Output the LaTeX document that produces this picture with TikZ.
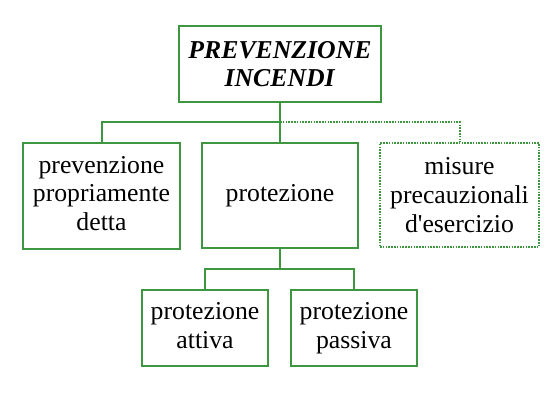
\documentclass[tikz,border=0pt]{standalone}
\usepackage{fontspec}
\setmainfont{Liberation Serif}
\usepackage{tikz}

\begin{document}
\begin{tikzpicture}[x=0.75pt,y=0.75pt,yscale=-1,xscale=1,
  box/.style={draw={rgb, 255:red, 62; green, 150; blue, 62},line width=1.5pt,align=center,inner sep=0.75pt,font=\fontsize{19.3}{21.5}\selectfont},
  conn/.style={draw={rgb, 255:red, 62; green, 150; blue, 62},line width=1.5pt},
  dots/.style={dash pattern={on 1.2pt off 0.9pt}}]
\path (0,0) rectangle (553,408); %set diagram size

% Top box
\node [box,minimum width=151.5pt,minimum height=57pt] (top) at (280,64) {\textbf{\textit{PREVENZIONE}}\\\textbf{\textit{INCENDI}}};
% Second row
\node [box,minimum width=117.75pt,minimum height=79.5pt] (prev) at (101.5,196) {prevenzione\\propriamente\\detta\vphantom{p}};
\node [box,minimum width=117pt,minimum height=78.75pt] (prot) at (280,195.5) {protezione};
\node [box,dots,minimum width=119.25pt,minimum height=78pt] (misure) at (459.5,195) {misure\\precauzionali\\d\textquotesingle esercizio};
% Third row
\node [box,minimum width=94.5pt,minimum height=57pt] (att) at (205,328) {protezione\\attiva\vphantom{p}};
\node [box,minimum width=94.5pt,minimum height=57pt] (pas) at (354,328) {protezione\\passiva};

%Connectors
\coordinate (bus) at (280,122);
\coordinate (bustwo) at (280,269);
\draw [conn] (top.south) -- (prot.north);
\draw [conn] (prev.north) |- (bus);
\draw [conn,dots] (bus) -| (misure.north);
\draw [conn] (prot.south) -- (bustwo);
\draw [conn] (att.north) |- (bustwo) -| (pas.north);
\end{tikzpicture}
\end{document}
